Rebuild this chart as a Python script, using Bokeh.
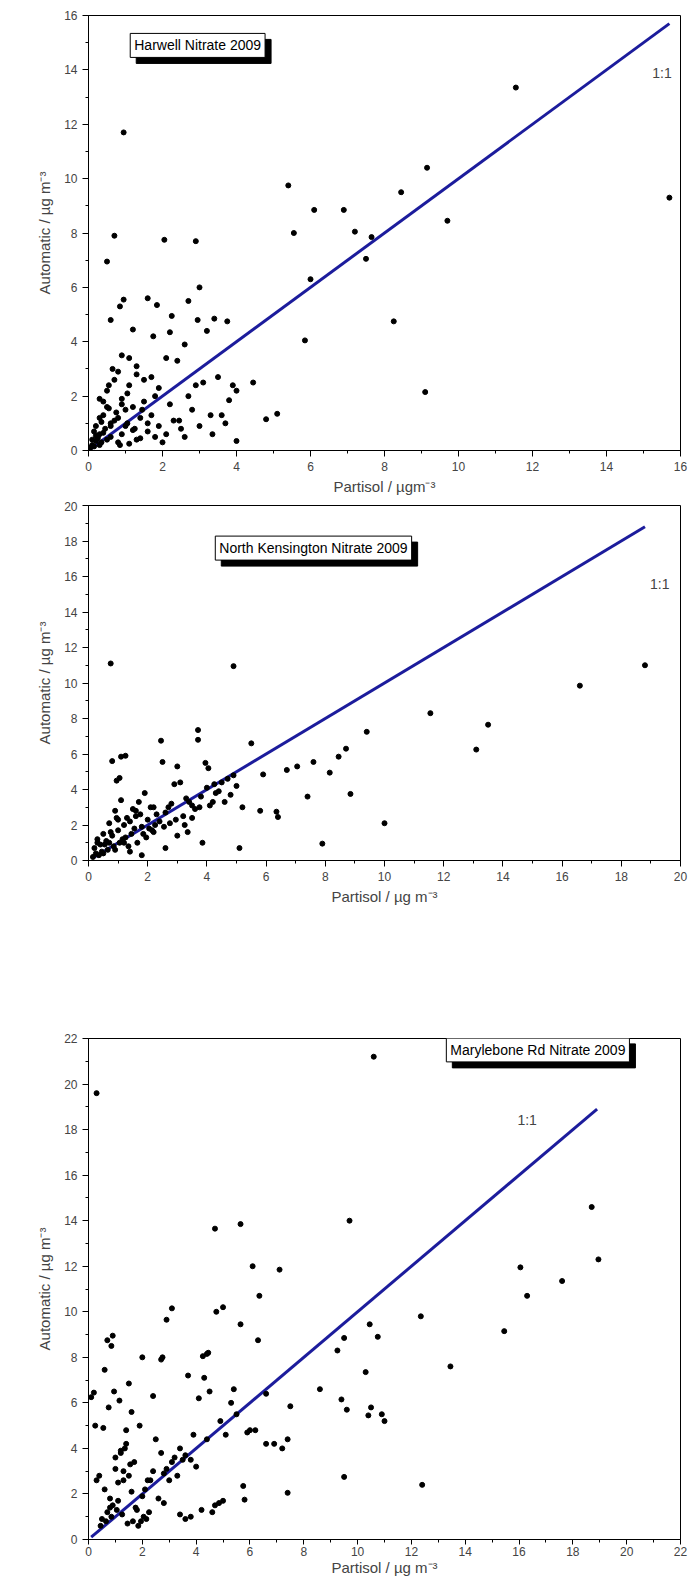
from bokeh.plotting import figure
from bokeh.layouts import column
from bokeh.models import Label, SingleIntervalTicker
from bokeh.embed import file_html
from bokeh.resources import INLINE

# ---------------- data ----------------
harwell_x = [0.95,0.5,0.7,2.05,2.9,11.55,15.7,9.15,8.45,9.7,6.1,6.9,7.2,5.4,5.55,7.65,7.5,6.0,5.85,8.25,9.1,4.8,5.1,4.45,
             3.0,2.7,2.95,3.4,3.75,1.6,0.95,0.85,0.6,1.2,1.85,2.2,2.25,3.2,3.9,4.0,3.8,4.0,3.7,3.3,3.5,2.6,2.4,2.1,1.9,1.7,
             1.5,1.3,1.1,0.9,0.8,0.65,0.55,0.4,0.3,0.2,0.1,0.15,0.25,0.35,0.45,0.6,0.75,0.9,1.05,1.2,1.4,1.6,1.8,2.0,2.3,2.5,
             2.8,3.1,0.1,0.2,0.3,0.4,0.5,0.7,0.9,1.0,1.3,1.5,1.7,2.1,0.05,0.15,0.3,0.5,0.6,0.8,1.1,1.25,1.45,1.9,2.2,2.6,3.0,
             0.3,0.5,0.7,0.9,1.1,1.3,1.6,1.8,0.2,0.4,0.6,0.8,1.0,1.2,1.4,2.7,3.6,2.9,1.05,0.55,0.35,0.25,1.75,2.45,3.35,0.85]
harwell_y = [11.7,6.95,7.9,7.75,7.7,13.35,9.3,10.4,9.5,8.45,8.85,8.85,8.05,9.75,8.0,7.85,7.05,6.3,4.05,4.75,2.15,1.15,1.35,2.5,
             6.0,5.5,4.8,4.85,4.75,5.6,5.55,5.3,4.8,4.45,5.35,4.35,4.95,4.4,2.4,2.2,1.85,0.35,1.0,1.3,2.7,3.9,3.3,3.4,2.3,2.7,
             2.6,3.1,3.4,3.5,2.9,3.0,2.4,1.8,1.2,0.9,0.4,0.7,0.5,0.3,0.8,1.0,1.4,1.9,2.1,1.6,1.2,0.7,0.5,0.3,1.1,0.8,
             1.5,2.5,0.2,0.35,0.6,1.3,1.6,1.1,0.6,0.9,0.4,1.8,1.3,0.6,0.1,0.15,0.2,0.4,0.5,0.3,0.25,0.8,1.5,0.9,1.7,0.5,0.9,
             1.9,2.2,2.6,1.7,2.4,2.8,1.0,2.0,0.55,0.65,0.9,1.2,1.5,0.75,0.45,2.0,1.3,2.4,1.0,1.55,1.05,0.45,4.2,1.1,0.6,0.2]

nk_x = [0.75,4.9,18.8,16.6,11.55,13.5,13.1,9.4,8.45,8.7,8.15,8.85,7.9,10.0,7.4,7.6,7.05,6.7,5.5,5.9,5.8,6.35,6.4,5.1,
        3.7,3.7,2.45,1.25,1.1,0.8,2.5,3.0,3.95,4.05,1.05,0.95,4.5,4.3,4.7,4.2,3.5,3.3,3.1,2.9,2.7,2.3,2.1,1.9,1.7,1.5,
        1.3,1.1,0.9,0.7,0.5,0.3,0.2,0.4,0.6,0.8,1.0,1.2,1.4,1.6,1.8,2.0,2.2,2.4,2.6,2.8,3.2,3.4,3.6,3.8,4.0,4.4,4.6,5.0,
        0.25,0.45,0.65,0.85,1.05,1.25,1.45,1.65,1.85,2.05,2.25,2.75,3.25,3.75,4.25,0.35,0.55,0.75,0.95,1.15,1.35,1.55,
        1.75,1.95,2.15,2.55,2.95,3.35,3.85,4.8,5.2,0.15,0.3,0.5,0.7,0.9,1.2,1.4,1.8,2.6,3.0,3.5,4.1,4.9,1.0,1.6,2.2]
nk_y = [11.1,10.95,11.0,9.85,8.3,7.65,6.25,7.25,5.85,6.3,4.95,3.75,0.95,2.1,3.6,5.55,5.3,5.1,6.6,4.85,2.8,2.75,2.45,0.7,
        7.35,6.8,6.75,5.9,5.85,5.6,5.55,5.3,5.5,5.2,4.65,4.5,4.4,3.8,4.6,3.3,3.1,3.5,4.4,4.3,3.0,2.6,3.0,3.8,3.3,2.9,
        2.4,3.4,2.8,2.1,1.5,1.2,0.7,0.9,1.1,1.4,1.7,2.0,2.2,2.5,1.9,2.3,1.6,2.2,2.7,3.2,2.5,3.3,2.9,3.6,4.1,3.9,3.3,4.2,
        0.4,0.5,0.6,0.8,1.0,1.3,1.5,1.0,1.5,1.8,2.0,2.1,2.0,3.0,4.3,0.3,0.9,1.6,2.4,1.2,0.8,1.8,
        2.6,1.3,1.7,1.9,2.3,1.6,1.0,3.7,3.0,0.2,1.0,0.4,1.0,0.6,1.0,0.5,0.3,0.7,1.4,2.4,3.1,4.8,2.3,2.8,3.0]

mr_x = [0.3,10.6,18.7,16.05,16.3,17.6,18.95,15.45,13.45,12.35,12.4,9.7,10.45,10.75,10.3,9.25,9.5,9.4,9.6,10.5,10.4,10.9,11.0,9.5,
        8.6,7.1,6.1,5.65,4.7,6.35,5.0,4.75,5.65,6.3,3.1,2.9,4.4,4.25,4.45,2.0,2.75,2.7,0.7,0.9,0.85,0.2,0.1,0.6,1.5,
        7.4,7.4,7.5,6.6,6.9,7.2,5.8,5.75,4.7,4.85,5.0,6.0,5.5,5.3,5.1,4.9,4.5,4.3,4.1,3.9,3.7,3.5,3.3,3.1,2.9,2.7,2.5,
        2.3,2.1,1.9,1.7,1.5,1.3,1.1,0.9,0.7,0.5,0.4,0.6,0.8,1.0,1.2,1.4,1.6,1.8,2.0,2.2,2.4,2.6,2.8,3.0,3.2,3.4,3.6,
        3.8,4.0,0.45,0.65,0.85,1.05,1.25,1.45,1.65,1.85,2.05,2.25,0.55,0.75,0.95,1.15,1.35,1.55,1.75,1.95,2.15,0.3,0.25,
        1.0,1.2,1.4,1.6,2.4,3.4,3.6,4.2,4.6,5.4,6.2,1.1,1.3,0.8,2.8,3.8,4.4,5.9,6.6]
mr_y = [19.6,21.2,14.6,11.95,10.7,11.35,12.3,9.15,7.6,9.8,2.4,14.0,9.45,8.9,7.35,8.3,8.85,6.15,5.7,5.8,5.45,5.5,5.2,2.75,
        6.6,11.85,12.0,13.85,13.65,10.7,10.2,10.0,9.45,8.75,10.15,9.65,8.15,8.05,8.2,8.0,8.0,7.9,8.75,8.95,8.5,6.45,6.25,7.45,6.85,
        4.4,2.05,5.85,4.2,4.2,4.0,1.75,2.35,1.5,1.6,1.7,4.8,5.5,6.0,4.6,5.2,6.5,7.1,6.2,4.6,7.2,3.5,2.8,3.4,3.1,3.8,4.4,
        2.6,2.2,5.0,3.4,2.8,2.6,1.7,1.5,1.2,0.9,2.8,2.2,1.4,3.1,3.8,4.2,2.1,1.3,1.9,2.6,3.0,1.8,2.9,2.6,3.6,4.0,3.7,
        3.5,3.2,0.6,0.8,1.0,1.3,1.1,0.7,0.8,0.6,1.0,1.2,4.9,5.8,6.5,6.1,4.0,3.3,1.4,0.8,0.9,2.6,5.0,
        3.6,3.9,4.8,5.6,6.3,1.1,0.9,1.3,1.2,6.6,4.8,2.5,3.0,1.8,1.6,1.0,4.4,4.7,6.4]

panels = [
    dict(title="Harwell Nitrate 2009", x=harwell_x, y=harwell_y, xmax=16, ymax=16, line=(0, 15.7),
         xlabel="Partisol / µgm⁻³", H=501, top=15, bottom=51, box=(2.95, 14.9), txt=(15.5, 13.9)),
    dict(title="North Kensington Nitrate 2009", x=nk_x, y=nk_y, xmax=20, ymax=20, line=(0.2, 18.8),
         xlabel="Partisol / µg m⁻³", H=410, top=4, bottom=51, box=(7.6, 17.6), txt=(19.3, 15.6)),
    dict(title="Marylebone Rd Nitrate 2009", x=mr_x, y=mr_y, xmax=22, ymax=22, line=(0.1, 18.9),
         xlabel="Partisol / µg m⁻³", H=667, top=127, bottom=35, box=(16.7, 21.5), txt=(16.3, 18.4)),
]

figs = []
for i, pn in enumerate(panels):
    p = figure(width=690, height=pn["H"], x_range=(0, pn["xmax"]), y_range=(0, pn["ymax"]),
               output_backend="svg", toolbar_location=None,
               min_border_left=88, min_border_right=10, min_border_top=pn["top"], min_border_bottom=pn["bottom"])
    p.grid.visible = False
    p.outline_line_color = "black"
    p.outline_line_width = 1
    for ax in (p.xaxis[0], p.yaxis[0]):
        ax.ticker = SingleIntervalTicker(interval=2, num_minor_ticks=2)
        ax.major_tick_in = 0
        ax.major_tick_out = 6
        ax.minor_tick_in = 0
        ax.minor_tick_out = 3
        ax.major_label_text_font = "Liberation Sans"
        ax.major_label_text_font_size = "12px"
        ax.axis_label_text_font = "Liberation Sans"
        ax.axis_label_text_font_size = "15px"
        ax.axis_label_text_font_style = "normal"
        ax.axis_line_color = "black"
    p.xaxis.axis_label = pn["xlabel"]
    p.yaxis.axis_label = "Automatic / µg m⁻³"
    if i == 2:
        p.xaxis.major_tick_out = 5
        p.xaxis.major_label_standoff = 2
        p.xaxis.axis_label_standoff = 0
    else:
        p.xaxis.axis_label_standoff = 4
    p.yaxis.axis_label_standoff = 8
    p.line(list(pn["line"]), list(pn["line"]), line_color="#1c1c9c", line_width=3)
    p.scatter(pn["x"], pn["y"], size=5, color="black")
    bx, by = pn["box"]
    p.add_layout(Label(x=bx, y=by, x_offset=6, y_offset=-6, text=pn["title"],
                       text_align="center", text_baseline="middle",
                       text_font="Liberation Sans", text_font_size="14px", text_color="black",
                       background_fill_color="black", border_line_color="black", padding=4))
    p.add_layout(Label(x=bx, y=by, text=pn["title"],
                       text_align="center", text_baseline="middle",
                       text_font="Liberation Sans", text_font_size="14px", text_color="black",
                       background_fill_color="white", border_line_color="black", padding=4))
    tx, ty = pn["txt"]
    p.add_layout(Label(x=tx, y=ty, text="1:1", text_align="center", text_baseline="middle",
                       text_font="Liberation Sans", text_font_size="14px"))
    figs.append(p)

lay = column(*figs, spacing=0)
open("out.html", "w").write(file_html(lay, INLINE))
